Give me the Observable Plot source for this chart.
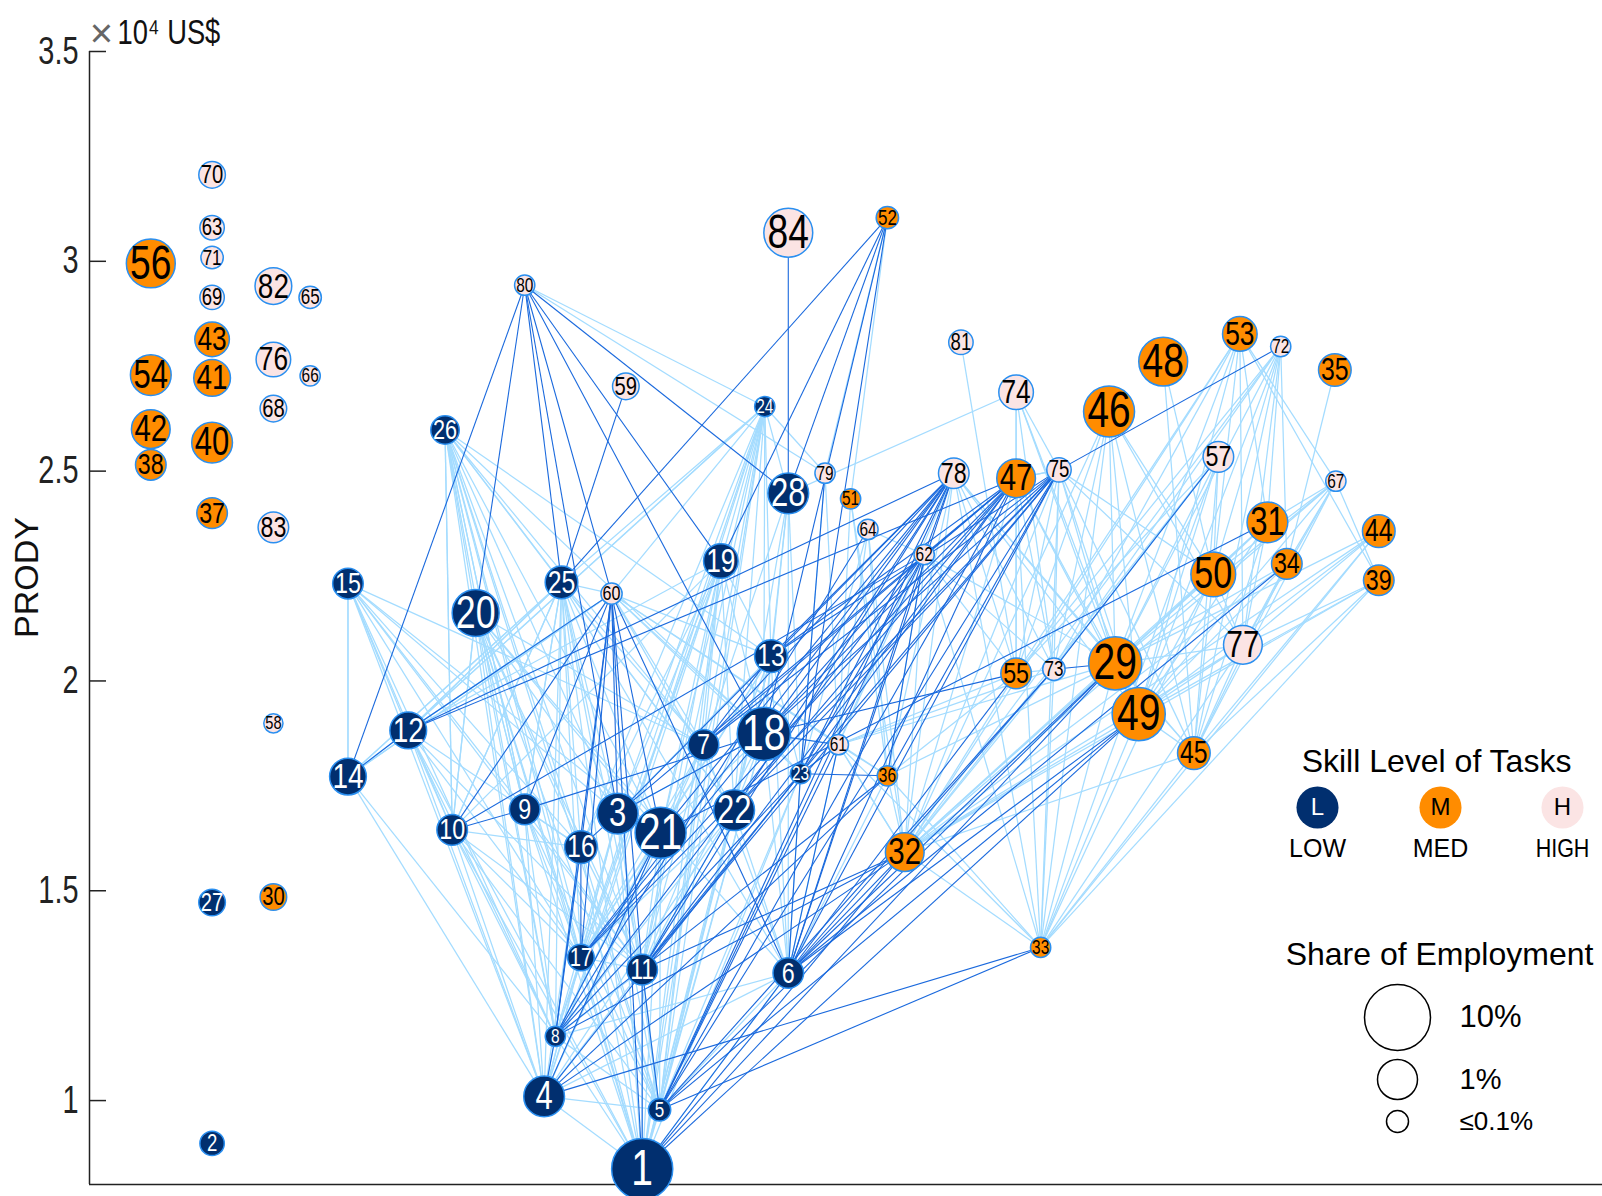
<!DOCTYPE html>
<html>
<head>
<meta charset="utf-8">
<script src="https://cdn.jsdelivr.net/npm/d3@7"></script>
<script src="https://cdn.jsdelivr.net/npm/@observablehq/plot@0.6"></script>
<style>
html,body{margin:0;padding:0;background:#fff;overflow:hidden}
</style>
</head>
<body>
<div id="chart"></div>
<script>
// Nodes 1..84, in order. Unitless horizontal position.
const position = [628,207,604,532,645,771,688,543,513,442,628,399,754,340,340,568,568,747,705,465,646,718,783,748,549,435,207,771,
1091,267,1240,885,1018,1259,1306,868,207,147,1349,207,207,147,207,1349,1168,1085,994,1138,1114,1187,832,868,1213,147,994,147,
1192,267,612,598,820,904,207,849,303,303,1307,267,207,207,207,1253,1031,994,1036,267,1216,933,807,513,940,267,267,771];
// PRODY, in units of 10^4 US$
const prody = [0.837,0.898,1.684,1.01,0.978,1.304,1.848,1.153,1.694,1.645,1.312,1.882,2.059,1.772,2.232,1.604,1.341,1.874,2.286,2.162,1.638,1.692,1.779,2.654,2.235,2.598,1.472,2.447,
2.042,1.485,2.378,1.592,1.365,2.279,2.741,1.774,2.4,2.515,2.24,2.568,2.722,2.6,2.814,2.357,1.828,2.642,2.483,2.761,1.921,2.254,2.434,3.104,2.827,2.729,2.018,2.995,
2.534,1.899,2.702,2.208,1.848,2.301,3.08,2.361,2.914,2.727,2.476,2.649,2.914,3.206,3.009,2.797,2.028,2.688,2.503,2.766,2.086,2.495,2.495,2.943,2.807,2.941,2.366,3.068];
// Share of employment, %
const share = [6.5,0.136,1.07,1.07,0.105,0.3,0.3,0.08,0.3,0.3,0.3,0.66,0.39,0.66,0.3,0.39,0.18,3.2,0.5,1.86,2.65,1.07,0.08,0.08,0.39,0.23,0.18,1.07,
3.2,0.18,1.07,0.85,0.08,0.3,0.39,0.08,0.3,0.3,0.3,1.07,0.66,0.85,0.5,0.39,0.39,2.65,0.85,2.2,3.2,1.53,0.08,0.105,0.5,1.07,0.3,2.2,
0.3,0.07,0.18,0.09,0.08,0.08,0.136,0.08,0.105,0.08,0.08,0.18,0.136,0.18,0.105,0.08,0.105,0.5,0.136,0.5,0.85,0.3,0.08,0.08,0.136,0.66,0.3,2.2];
const skill = ("L".repeat(28) + "M".repeat(28) + "H".repeat(28)).split("");

// Links: [node, [connected nodes]]
const lightLinks = [
[15,[14,12,10,9,16,17,8,4,3,7,21,11]],[14,[4,8,25,60,12,15]],[12,[10,8,4,17,16,1,11,24,25,60]],
[10,[4,8,17,1,11,5,16,25,26,20]],[9,[4,8,17,11,1,5,16,20,25,26]],[20,[10,9,16,17,8,4,3,11,21,7,6,1,5]],
[26,[20,25,10,9,16,17,3,21,7,22,8,4,11,18,13,5,1]],[25,[12,14,10,9,16,17,8,4,11,3,21,1,7,22,6,5]],
[24,[25,12,60,7,13,19,18,3,21,16,22,17,11,1,5,4]],[19,[7,3,21,16,17,11,5,1,13,22,18,4,8,12,10]],
[60,[12,14,7,18,22,13,23,25,61,36]],[3,[4,8,17,11,1,5]],[16,[4,1,11,5,8]],[21,[17,11,8,4,1,5]],
[22,[5,1,11,6,8,17,4]],[7,[5,1,11,17,4,8,6]],[13,[18,23,22,6,5,1,21,3,17,11]],[18,[23,61,6,5,1,21,22,3,11]],
[28,[13,18,22,23,7,24,6]],[17,[1,5,11,8,4]],[11,[5,1,4,8]],[8,[1,4,5]],[4,[1,5]],[5,[1]],[6,[5,1,4,8]],
[23,[6,5,1]],[61,[23,36,32,33,6]],[36,[32,33,6]],[79,[23,24,61]],[80,[24,79]],[52,[51,79]],
[74,[47,75,28,29,49,55,73]],[81,[55]],[75,[47,29,49,45,77,55,73,32,50,33]],[47,[75,55,73,29,32,49,33]],
[78,[29,49,45,55,73,33,32,36,61]],[62,[32,33,36,61,55,73,29]],[64,[23,61,36,62,32]],[51,[61,36,32]],
[48,[50,45]],[46,[29,49,77,45,50,32,55,73,33]],[53,[29,49,50,31,77,55,73,39,67,32]],
[72,[31,50,29,49,55,73,34,77,45,32]],[35,[34]],[67,[31,50,29,49,45,34,77,39,32]],[57,[29,49,50,45,55,73,32,33]],
[31,[77,45,49,29,50,32]],[34,[77,45,49,29,32]],[44,[45,77,49,33,32,29]],[39,[45,49,33,77,32]],
[50,[29,49,45,32,33,77]],[77,[45,49,29,33,32]],[29,[49,32,33,45,36,61]],[49,[32,33,45]],
[55,[73,32,61,36]],[73,[61,32,33]],[45,[33,32]],[32,[33,61]]
];
const darkLinks = [
[80,[14,20,25,3,60,19,18,28]],[59,[25]],[52,[25,19,28,23,18]],[84,[28]],[79,[23]],
[60,[10,9,16,17,8,3,11,1,21,6,12]],[13,[7]],
[78,[12,13,7,18,22,21,3,17,11,6,62,23,5]],[47,[12,13,7,18,22,3,17,11,6,5,23,62]],
[75,[72,13,7,18,22,17,11,6,5,36,23]],[62,[18,8,6,5,36,23]],[64,[8]],
[61,[23,5,6,18]],[36,[23,4,8]],[32,[6,8,11,4]],[33,[4,5]],
[29,[6,5,1,73]],[49,[6,1,5]],[55,[18,6]],[73,[6,5]],[57,[73]],[31,[21]],[34,[6]],
[23,[11,8,4,6]],[22,[11]],[21,[8,4]],[18,[3,9,17]],[17,[16]],[16,[8,3]],
[11,[1,5]],[4,[8]],[1,[6,32]],[10,[9,62]],[14,[12]]
];

const yTicks = [1,1.5,2,2.5,3,3.5];
const skillLegend = [["L","LOW"],["M","MED"],["H","HIGH"]];
const sizeLegend = [["10%",10],["1%",1],["≤0.1%",0.1]];

const nodes = position.map((x,i)=>({id:i+1,x,y:prody[i],share:share[i],skill:skill[i]}));
const expand = list => list.flatMap(([a,bs])=>bs.map(b=>({a:nodes[a-1],b:nodes[b-1]})));
const light = expand(lightLinks), dark = expand(darkLinks);

const W=1602,H=1196,ML=89,MT=51,MB=12;
const rDomain=[0.1,1,10], rRange=[11,20,33];
const rOf = d3.scaleLog().domain(rDomain).range(rRange);
const regular = '"Liberation Sans",Arial,sans-serif';
const colors = {domain:["L","M","H"],range:["#012f6f","#ff8c00","#fbe4e4"]};
const at=(px,py)=>({frameAnchor:"top-left",dx:px-ML,dy:py-MT});
const linkOpts=(stroke,w)=>({x1:d=>d.a.x,y1:d=>d.a.y,x2:d=>d.b.x,y2:d=>d.b.y,stroke,strokeWidth:w});
const label=(data,fill)=>Plot.text(data,{x:"x",y:"y",text:d=>String(d.id),fill,fontFamily:regular,className:"sq",
  fontSize:d=>Math.min(rOf(d.share)*1.95,50),textAnchor:"middle",lineAnchor:"middle",dy:0});
const t=(s,px,py,size,opts={})=>Plot.text([s],{...at(px,py),text:d=>d,fontSize:size,fontFamily:regular,fill:"#000",lineAnchor:"middle",...opts});

const plot = Plot.plot({
  width:W,height:H,marginLeft:ML,marginTop:MT,marginBottom:MB,marginRight:0,
  style:{background:"#fff",overflow:"hidden"},
  x:{domain:[87,1568],axis:null},
  y:{domain:[0.8,3.5],axis:null},
  r:{type:"log",domain:rDomain,range:rRange,clamp:false},
  color:colors,
  marks:[
    Plot.link(light,linkOpts("#a4dcff",1.25)),
    Plot.link(dark,linkOpts("#1a69dd",1.1)),
    Plot.ruleX([87],{stroke:"#222",strokeWidth:1.5}),
    Plot.ruleY([0.8],{stroke:"#222",strokeWidth:1.5}),
    Plot.axisY({anchor:"left",ticks:yTicks,tickSize:-17,tickPadding:28,stroke:"#222",strokeWidth:1.5,
      tickFormat:d=>String(d),fontSize:38,fontFamily:regular,fill:"#222",label:null}),
    Plot.dot(nodes,{x:"x",y:"y",r:"share",fill:"skill",stroke:"#2a8ff0",strokeWidth:1.5}),
    label(nodes.filter(d=>d.skill==="L"),"#fff"),
    label(nodes.filter(d=>d.skill!=="L"),"#000"),
    // y title and unit
    t("PRODY",27,577,34,{rotate:-90,textAnchor:"middle",fill:"#111"}),
    t("×",101,34,40,{textAnchor:"middle",fill:"#666"}),
    t("10⁴ US$",117,32,35,{textAnchor:"start",fill:"#111",className:"sq"}),
    // skill legend
    t("Skill Level of Tasks",1436,761,32,{textAnchor:"middle"}),
    ...skillLegend.flatMap(([k,name],i)=>{
      const cx=[1317,1440,1562][i];
      return [
        Plot.dot([k],{...at(cx,807),r:()=>1.2,fill:d=>d}),
        t(k,cx,807,24,{textAnchor:"middle",fill:k==="L"?"#fff":"#000"}),
        t(name,cx,848,25,{textAnchor:"middle",className:name==="HIGH"?"sq2":undefined})
      ];
    }),
    // size legend
    t("Share of Employment",1439,954,32,{textAnchor:"middle"}),
    ...sizeLegend.flatMap(([name,v],i)=>{
      const cy=[1017,1079,1121][i];
      return [
        Plot.dot([v],{...at(1397,cy),r:d=>d,fill:"none",stroke:"#000",strokeWidth:1.5}),
        t(name,1459,cy,[31,29,26][i],{textAnchor:"start"})
      ];
    })
  ]
});
document.getElementById("chart").appendChild(plot);
// The reference's digits are tall and condensed; no condensed face is installed, so squeeze the glyphs.
const squeeze=(sel,k)=>plot.querySelectorAll(sel).forEach(el=>{
  el.setAttribute("textLength",(el.getComputedTextLength()*k).toFixed(2));
  el.setAttribute("lengthAdjust","spacingAndGlyphs");
});
squeeze('.sq text, text.sq',0.78);
squeeze('[aria-label="y-axis tick label"] text',0.76);
squeeze('.sq2 text, text.sq2',0.86);
</script>
</body>
</html>
